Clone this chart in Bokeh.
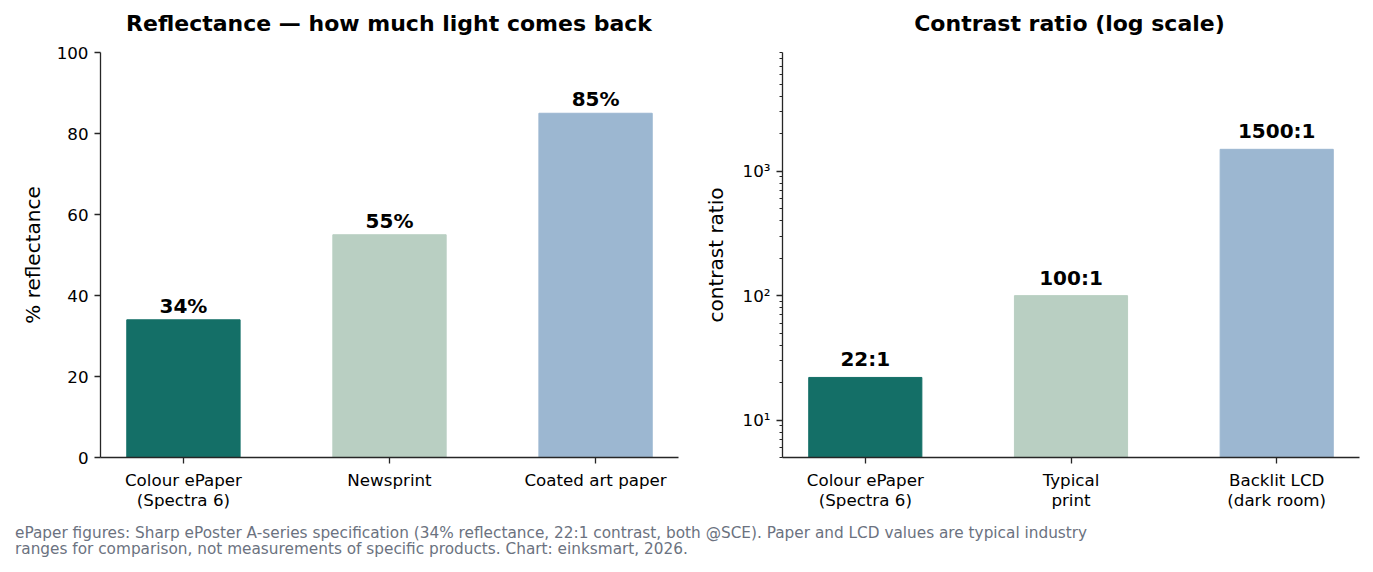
from bokeh.plotting import figure, ColumnDataSource
from bokeh.models import (Div, Range1d, FactorRange, LogTicker, FixedTicker,
                          CustomJSTickFormatter, Spacer)
from bokeh.layouts import row, column
from bokeh.core.properties import value
from bokeh.embed import file_html
from bokeh.resources import INLINE

# data
refl_labels = ["Colour ePaper\n(Spectra 6)", "Newsprint", "Coated art paper"]
refl_values = [34, 55, 85]
contrast_labels = ["Colour ePaper\n(Spectra 6)", "Typical\nprint", "Backlit LCD\n(dark room)"]
contrast_values = [22, 100, 1500]
refl_ticks = [0, 20, 40, 60, 80, 100]
colors = ["#146f67", "#b9cfc2", "#9cb7d1"]

FONT = "DejaVu Sans"
INK = "#262626"
titles = ["Reflectance — how much light comes back", "Contrast ratio (log scale)"]
footer_text = ("ePaper figures: Sharp ePoster A-series specification (34% reflectance, "
               "22:1 contrast, both @SCE). Paper and LCD values are typical industry<br>"
               "ranges for comparison, not measurements of specific products. "
               "Chart: einksmart, 2026.")


def style(p):
    # matplotlib-ish look: left + bottom spines only, ticks outside
    p.outline_line_color = None
    p.grid.grid_line_color = None
    p.background_fill_color = "white"
    p.border_fill_color = "white"
    for ax in p.axis:
        ax.axis_line_color = INK
        ax.axis_line_width = 1.3
        ax.major_tick_line_color = INK
        ax.major_tick_line_width = 1.3
        ax.major_tick_out = 6
        ax.major_tick_in = 0
        ax.minor_tick_line_color = INK
        ax.minor_tick_out = 3
        ax.minor_tick_in = 0
        ax.major_label_text_font = FONT
        ax.major_label_text_font_size = "16.7px"
        ax.major_label_text_color = "black"
        ax.major_label_text_line_height = 1.0
        ax.major_label_standoff = 6
        ax.axis_label_text_font = FONT
        ax.axis_label_text_font_size = "20px"
        ax.axis_label_text_font_style = "normal"
        ax.axis_label_text_color = "black"
        ax.axis_label_standoff = 9


def title_div(text, width):
    return Div(text=text, width=width, height=40, margin=(0, 0, 0, 0),
               styles={"font-family": FONT, "font-size": "22px", "font-weight": "bold",
                       "line-height": "48px", "text-align": "center", "color": "black",
                       "white-space": "nowrap"})


# Left panel: reflectance
src1 = ColumnDataSource(dict(cat=refl_labels, val=refl_values, color=colors,
                             label=["%d%%" % v for v in refl_values]))
p1 = figure(width=700, height=475, output_backend="svg", toolbar_location=None, tools="",
            x_range=FactorRange(factors=refl_labels, range_padding=-0.0975,
                                range_padding_units="absolute"),
            y_range=Range1d(0, 100),
            min_border_left=100, min_border_right=22, min_border_top=12, min_border_bottom=58)
p1.vbar(x="cat", top="val", width=0.55, color="color", source=src1)
p1.text(x="cat", y="val", text="label", source=src1, text_align="center",
        text_baseline="bottom", y_offset=-2, text_font=value(FONT),
        text_font_style="bold", text_font_size=value("20px"), text_color="black")
p1.yaxis.axis_label = "% reflectance"
p1.yaxis.ticker = FixedTicker(ticks=refl_ticks)
style(p1)
p1.yaxis.minor_tick_line_color = None

# Right panel: contrast ratio on log scale
log_bottom = 5
log_top = 9000
src2 = ColumnDataSource(dict(cat=contrast_labels, val=contrast_values, color=colors,
                             label=["%d:1" % v for v in contrast_values]))
p2 = figure(width=665, height=475, output_backend="svg", toolbar_location=None, tools="",
            x_range=FactorRange(factors=contrast_labels, range_padding=-0.0975,
                                range_padding_units="absolute"),
            y_range=Range1d(log_bottom, log_top), y_axis_type="log",
            min_border_left=80, min_border_right=6, min_border_top=12, min_border_bottom=58)
p2.vbar(x="cat", top="val", bottom=1, width=0.55, color="color", source=src2)
p2.text(x="cat", y="val", text="label", source=src2, text_align="center",
        text_baseline="bottom", y_offset=-6, text_font=value(FONT),
        text_font_style="bold", text_font_size=value("20px"), text_color="black")
p2.yaxis.axis_label = "contrast ratio"
p2.yaxis.ticker = LogTicker(mantissas=[1], num_minor_ticks=10)
p2.yaxis.formatter = CustomJSTickFormatter(code="""
    const sup = {'0':'\u2070','1':'\u00b9','2':'\u00b2','3':'\u00b3','4':'\u2074','-':'\u207b'};
    const e = Math.round(Math.log10(tick));
    return '10' + String(e).split('').map(c => sup[c]).join('');
""")
style(p2)
p2.yaxis.axis_label_standoff = 12

# titles sit above each frame, centred on it
title_row = row(Spacer(width=100, height=40), title_div(titles[0], 578),
                Spacer(width=102, height=40), title_div(titles[1], 579))

footer = Div(text=footer_text, width=1300, height=45,
             styles={"font-family": FONT, "font-size": "15.3px", "line-height": "16px",
                     "color": "#6b7280", "padding-left": "10px", "padding-top": "5px"})

layout = column(title_row, row(p1, p2), footer)
open("out.html", "w").write(file_html(layout, INLINE))
